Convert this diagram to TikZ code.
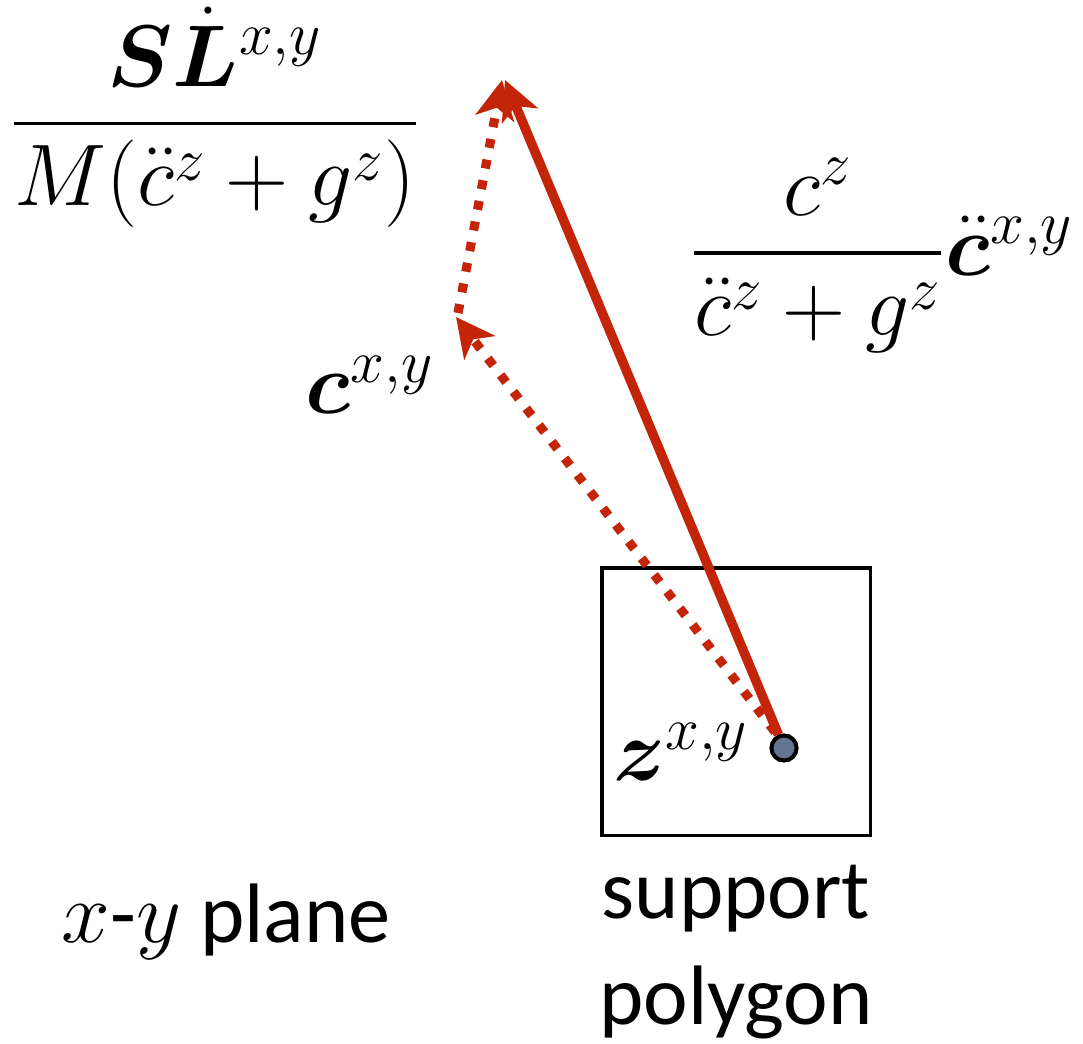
\documentclass[tikz,border=0pt]{standalone}
\usepackage{amsmath}
\usepackage{bm}
\usepackage{fontspec}
\setmainfont{Carlito}
\usetikzlibrary{arrows.meta, positioning, calc}
\definecolor{vecred}{RGB}{196,36,8}
\definecolor{zmpblue}{RGB}{98,118,145}

\begin{document}
\begin{tikzpicture}[
    x=0.01cm, y=-0.01cm,
    >={Stealth[length=11pt, width=11pt, inset=3pt]},
    % Define styles for the different elements
    mathlabel/.style={inner sep=0pt, font=\fontsize{24}{29}\selectfont},
    textlabel/.style={inner sep=0pt, align=center, font=\fontsize{24}{30}\selectfont},
    solidvec/.style={->, draw=vecred, line width=2.7pt},
    dashvec/.style={->, draw=vecred, line width=2.6pt, dash pattern=on 0.09cm off 0.12cm},
    polybox/.style={rectangle, draw=black, line width=0.9pt, minimum width=2.68cm, minimum height=2.67cm},
    zmpdot/.style={circle, draw=black, line width=1.1pt, fill=zmpblue, minimum size=0.25cm, inner sep=0pt},
]
\useasboundingbox (0,0) rectangle (1083,1043);

% -------------------------
% Support Polygon
% -------------------------
\node (poly) [polybox] at (736,701.5) {};
\node (zmp) [zmpdot] at (784,748) {};
\node (zlabel) [mathlabel, left=0.2cm of zmp, yshift=-0.04cm] {$\bm{z}^{x,y}$};

% Vector end points
\coordinate (ctip) at (456,317);
\coordinate (ltip) at (505,80);

% -------------------------
% Labels
% -------------------------
\node (ltext) [mathlabel] at (215,117) {$\dfrac{\bm{S}\dot{\bm{L}}^{x,y}}{M(\ddot{c}^z+g^z)}$};
\node (clabel) [mathlabel] at (370,385) {$\bm{c}^{x,y}$};
\node (acclabel) [mathlabel] at (882,255) {$\dfrac{c^z}{\ddot{c}^z+g^z}\ddot{\bm{c}}^{x,y}$};
\node (plane) [textlabel] at (226,922) {$x$-$y$ plane};
\node (polytext) [textlabel, below=0.28cm of poly] {support\\polygon};

% -------------------------
% Vectors
% -------------------------
\draw[dashvec] ($(zmp)+(-9,-16)$) -- (ctip);
\draw[dashvec] ($(ctip)+(2,-4)$) -- ($(ltip)+(-3,0)$);
\draw[solidvec] (zmp) -- (ltip);
\node [zmpdot] at (zmp) {};

\end{tikzpicture}
\end{document}
